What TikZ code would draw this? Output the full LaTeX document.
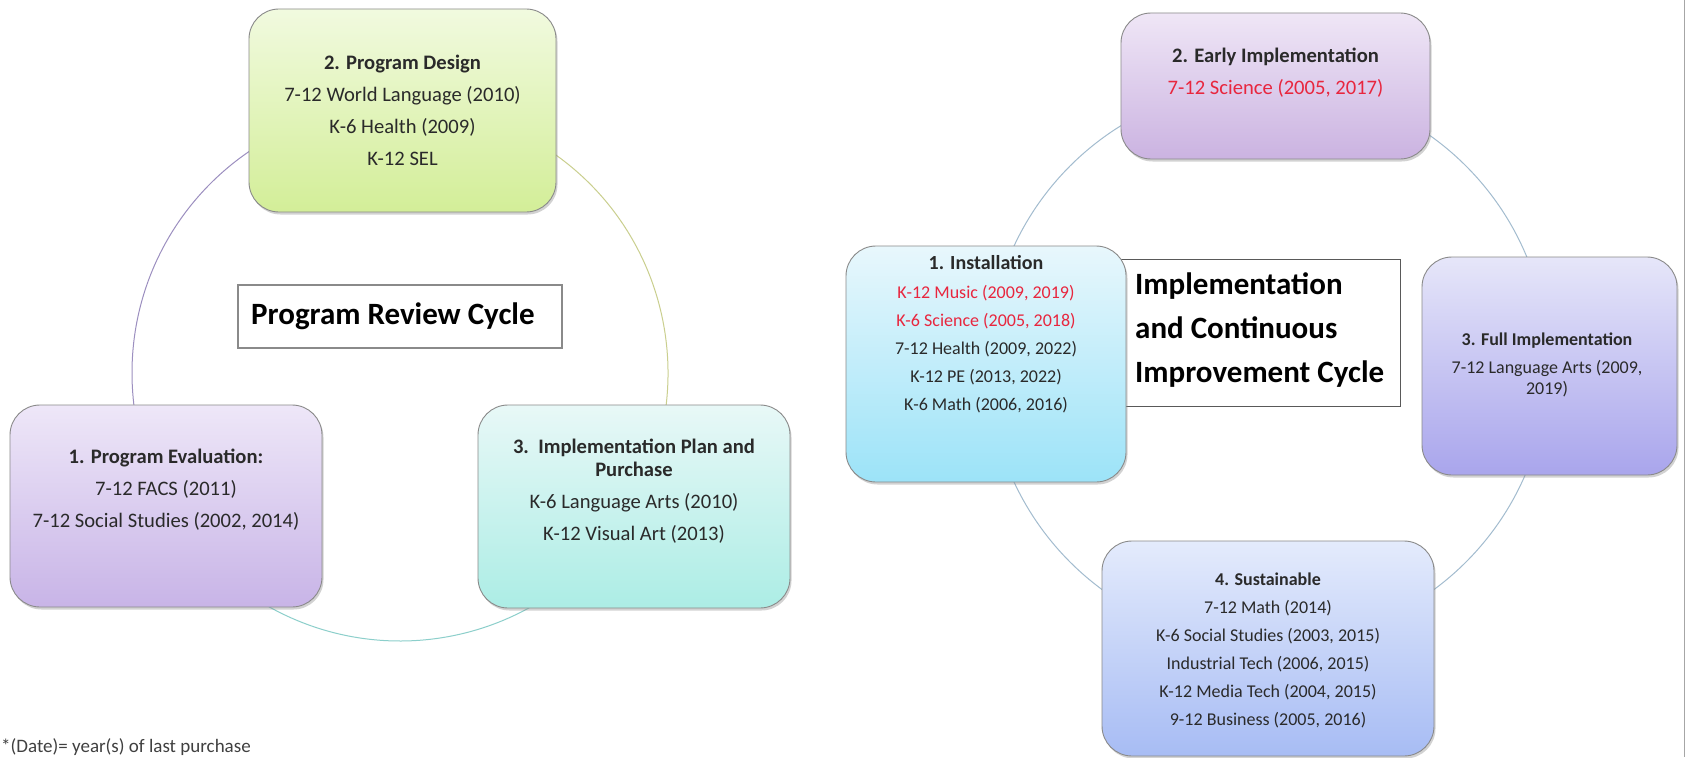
\documentclass[tikz,border=0pt]{standalone}
\usepackage{fontspec}
\setmainfont{Carlito}
\usetikzlibrary{shadows}
\definecolor{txt}{HTML}{2A2A2A}
\definecolor{redtxt}{HTML}{E8263E}
\definecolor{boxline}{HTML}{8A8A8A}
\definecolor{arcpurple}{HTML}{9C8FC0}
\definecolor{arcgreen}{HTML}{CACF8E}
\definecolor{arcteal}{HTML}{8CCFCB}
\definecolor{arcblue}{HTML}{A3BCCF}
\definecolor{gtop}{HTML}{F1FADF}\definecolor{gbot}{HTML}{D3EE98}
\definecolor{ptop}{HTML}{EEE7F8}\definecolor{pbot}{HTML}{C8B4E7}
\definecolor{ttop}{HTML}{E8F8F7}\definecolor{tbot}{HTML}{ACEDE5}
\definecolor{mtop}{HTML}{EFE6F6}\definecolor{mbot}{HTML}{CBB3E1}
\definecolor{ctop}{HTML}{E8F7FC}\definecolor{cbot}{HTML}{9CE3F8}
\definecolor{ltop}{HTML}{E6E6F9}\definecolor{lbot}{HTML}{A9A5EC}
\definecolor{btop}{HTML}{E4EBFC}\definecolor{bbot}{HTML}{A7BCF4}
\tikzset{
  cyclebox/.style={rectangle, rounded corners=30pt, draw=boxline, line width=0.9pt,
    drop shadow={shadow xshift=1.5pt, shadow yshift=-2.5pt, opacity=0.35},
    inner sep=0pt},
  bigtxt/.style={font=\fontsize{20.6}{32}\selectfont, text=txt, align=center, inner sep=0pt},
  smalltxt/.style={font=\fontsize{18}{28}\selectfont, text=txt, align=center, inner sep=0pt},
  titletxt/.style={font=\fontsize{31}{44}\selectfont\bfseries, text=black, align=left, inner sep=0pt},
  titlebox/.style={rectangle, fill=white, inner sep=0pt},
}
\begin{document}
\begin{tikzpicture}[x=1pt,y=-1pt]
\useasboundingbox (0,0) rectangle (1685,757);
\fill[white] (0,0) rectangle (1685,757);
\coordinate (edgetop) at (1684,0);
\coordinate (edgebot) at (1684,757);
\draw[black!35, line width=0.8pt] (edgetop) -- (edgebot);
% ---------- left cycle ----------
\coordinate (lc) at (400,373);
\draw[arcpurple, line width=1pt] (lc) ++(-90:268) arc[start angle=-90, end angle=-215, radius=268];
\draw[arcteal, line width=1pt] (lc) ++(-215:268) arc[start angle=-215, end angle=-325, radius=268];
\draw[arcgreen, line width=1pt] (lc) ++(-325:268) arc[start angle=-325, end angle=-450, radius=268];

\node[titlebox, draw=boxline, line width=1.4pt, minimum width=324pt, minimum height=63pt] (ltitle) at (400,316.5) {};
\node[titletxt, anchor=west] (ltitletext) at (251,316) {Program Review Cycle};

\node[cyclebox, top color=gtop, bottom color=gbot, minimum width=307pt, minimum height=203pt] (lb2) at (402.5,110.5) {};
\node[bigtxt] (lb2text) at (402.5,110) {{\bfseries 2. Program Design}\\7-12 World Language (2010)\\K-6 Health (2009)\\K-12 SEL};

\node[cyclebox, top color=ptop, bottom color=pbot, minimum width=312pt, minimum height=202pt] (lb1) at (166,506) {};
\node[bigtxt] (lb1text) at (166,490) {{\bfseries 1. Program Evaluation:}\\7-12 FACS (2011)\\7-12 Social Studies (2002, 2014)};

\node[cyclebox, top color=ttop, bottom color=tbot, minimum width=312pt, minimum height=203pt] (lb3) at (634,506.5) {};
\node[bigtxt] (lb3text) at (634,491) {{\bfseries 3.\ \ Implementation Plan and}\\[-9pt]{\bfseries Purchase}\\K-6 Language Arts (2010)\\K-12 Visual Art (2013)};

% ---------- right cycle ----------
\coordinate (rc) at (1268,364);
\draw[arcblue, line width=1pt] (rc) circle[radius=280];

\node[titlebox, draw=black!65, line width=1pt, minimum width=295pt, minimum height=147pt] (rtitle) at (1252.5,332.5) {};
\node[titletxt, anchor=west] (rtitletext) at (1135,330) {Implementation\\and Continuous\\Improvement Cycle};

\node[cyclebox, top color=mtop, bottom color=mbot, minimum width=309pt, minimum height=146pt] (rb2) at (1275.5,86) {};
\node[bigtxt] (rb2text) at (1275.5,73) {{\bfseries 2. Early Implementation}\\\textcolor{redtxt}{7-12 Science (2005, 2017)}};

\node[cyclebox, top color=ctop, bottom color=cbot, minimum width=280pt, minimum height=236pt] (rb1) at (986,364) {};
\node[smalltxt] (rb1text) at (986,334) {{\fontsize{20}{28}\selectfont\bfseries 1. Installation}\\[1pt]\textcolor{redtxt}{K-12 Music (2009, 2019)}\\\textcolor{redtxt}{K-6 Science (2005, 2018)}\\7-12 Health (2009, 2022)\\K-12 PE (2013, 2022)\\K-6 Math (2006, 2016)};

\node[cyclebox, top color=ltop, bottom color=lbot, minimum width=255pt, minimum height=218pt] (rb3) at (1549.5,366) {};
\node[smalltxt] (rb3text) at (1547,365) {{\bfseries 3. Full Implementation}\\7-12 Language Arts (2009,\\[-7pt]2019)};

\node[cyclebox, top color=btop, bottom color=bbot, minimum width=332pt, minimum height=215pt] (rb4) at (1268,648.5) {};
\node[smalltxt] (rb4text) at (1268,650) {{\bfseries 4. Sustainable}\\7-12 Math (2014)\\K-6 Social Studies (2003, 2015)\\Industrial Tech (2006, 2015)\\K-12 Media Tech (2004, 2015)\\9-12 Business (2005, 2016)};

% ---------- footnote ----------
\node[font=\fontsize{19}{22}\selectfont, text=black!75, anchor=base west, inner sep=0pt] (foot) at (1,752) {*(Date)= year(s) of last purchase};
\end{tikzpicture}
\end{document}
